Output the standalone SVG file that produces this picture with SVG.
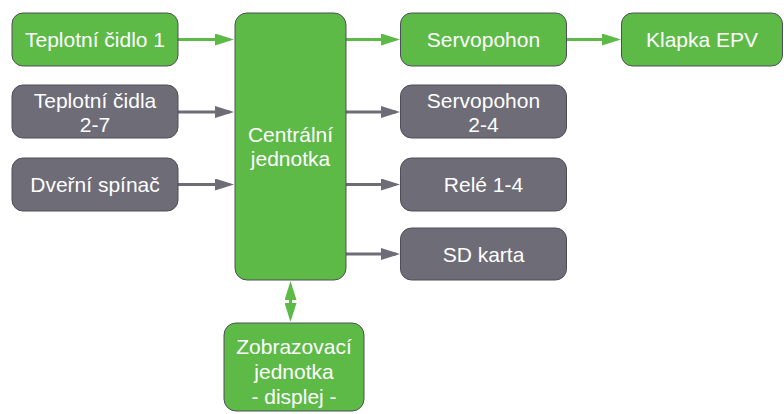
<svg xmlns="http://www.w3.org/2000/svg" width="784" height="414" viewBox="0 0 784 414">
  <style>
    .box { stroke: #4e4e58; stroke-width: 1; }
    .green { fill: #5dba47; }
    .grey { fill: #6d6c77; }
    .label { font-family: "Liberation Sans", Arial, sans-serif; font-size: 21px; fill: #ffffff; text-anchor: middle; }
    .wire { fill: none; stroke-width: 3; }
    .wire-green { stroke: #5dba47; }
    .wire-grey { stroke: #6d6c77; }
  </style>
  <defs>
    <marker id="head-green" viewBox="0 0 19 12" refX="15" refY="6" markerWidth="19" markerHeight="12" markerUnits="userSpaceOnUse" orient="auto-start-reverse">
      <path d="M0,0 L19,6 L0,12 z" fill="#5dba47"/>
    </marker>
    <marker id="head-grey" viewBox="0 0 19 12" refX="15" refY="6" markerWidth="19" markerHeight="12" markerUnits="userSpaceOnUse" orient="auto">
      <path d="M0,0 L19,6 L0,12 z" fill="#6d6c77"/>
    </marker>
  </defs>

  <rect width="784" height="414" fill="#ffffff"/>

  <!-- connectors -->
  <g id="connectors">
    <line class="wire wire-green" x1="178" y1="39.5" x2="230" y2="39.5" marker-end="url(#head-green)"/>
    <line class="wire wire-grey" x1="178" y1="112" x2="230" y2="112" marker-end="url(#head-grey)"/>
    <line class="wire wire-grey" x1="178" y1="184.5" x2="230" y2="184.5" marker-end="url(#head-grey)"/>
    <line class="wire wire-green" x1="346" y1="39.5" x2="396" y2="39.5" marker-end="url(#head-green)"/>
    <line class="wire wire-grey" x1="346" y1="112" x2="396" y2="112" marker-end="url(#head-grey)"/>
    <line class="wire wire-grey" x1="346" y1="184.5" x2="396" y2="184.5" marker-end="url(#head-grey)"/>
    <line class="wire wire-grey" x1="346" y1="254" x2="396" y2="254" marker-end="url(#head-grey)"/>
    <line class="wire wire-green" x1="566.5" y1="39.5" x2="617" y2="39.5" marker-end="url(#head-green)"/>
    <line class="wire wire-green" x1="290.5" y1="285" x2="290.5" y2="318" marker-start="url(#head-green)" marker-end="url(#head-green)"/>
  </g>

  <!-- inputs -->
  <g id="teplotni-cidlo-1">
    <rect class="box green" x="12" y="13" width="166" height="53" rx="11"/>
    <text class="label" x="95" y="47">Teplotní čidlo 1</text>
  </g>
  <g id="teplotni-cidla-2-7">
    <rect class="box grey" x="12" y="85" width="166" height="53" rx="11"/>
    <text class="label" x="95" y="107.5">Teplotní čidla</text>
    <text class="label" x="95" y="132">2-7</text>
  </g>
  <g id="dverni-spinac">
    <rect class="box grey" x="12" y="158" width="166" height="53" rx="11"/>
    <text class="label" x="95" y="192">Dveřní spínač</text>
  </g>

  <!-- control unit -->
  <g id="centralni-jednotka">
    <rect class="box green" x="235" y="13" width="111" height="267" rx="12"/>
    <text class="label" x="290.5" y="141.5">Centrální</text>
    <text class="label" x="290.5" y="165.5">jednotka</text>
  </g>

  <!-- outputs -->
  <g id="servopohon">
    <rect class="box green" x="400.5" y="13" width="166" height="53" rx="11"/>
    <text class="label" x="483.5" y="47">Servopohon</text>
  </g>
  <g id="klapka-epv">
    <rect class="box green" x="621.5" y="13" width="161" height="53" rx="11"/>
    <text class="label" x="702" y="47">Klapka EPV</text>
  </g>
  <g id="servopohon-2-4">
    <rect class="box grey" x="400.5" y="85" width="166" height="53" rx="11"/>
    <text class="label" x="483.5" y="107.5">Servopohon</text>
    <text class="label" x="483.5" y="132">2-4</text>
  </g>
  <g id="rele-1-4">
    <rect class="box grey" x="400.5" y="158" width="166" height="53" rx="11"/>
    <text class="label" x="483.5" y="192">Relé 1-4</text>
  </g>
  <g id="sd-karta">
    <rect class="box grey" x="400.5" y="228" width="166" height="52" rx="11"/>
    <text class="label" x="483.5" y="261.5">SD karta</text>
  </g>

  <!-- display -->
  <g id="zobrazovaci-jednotka">
    <rect class="box green" x="224" y="323" width="140" height="88" rx="12"/>
    <text class="label" x="294" y="354">Zobrazovací</text>
    <text class="label" x="294" y="379">jednotka</text>
    <text class="label" x="294" y="404">- displej -</text>
  </g>
</svg>
